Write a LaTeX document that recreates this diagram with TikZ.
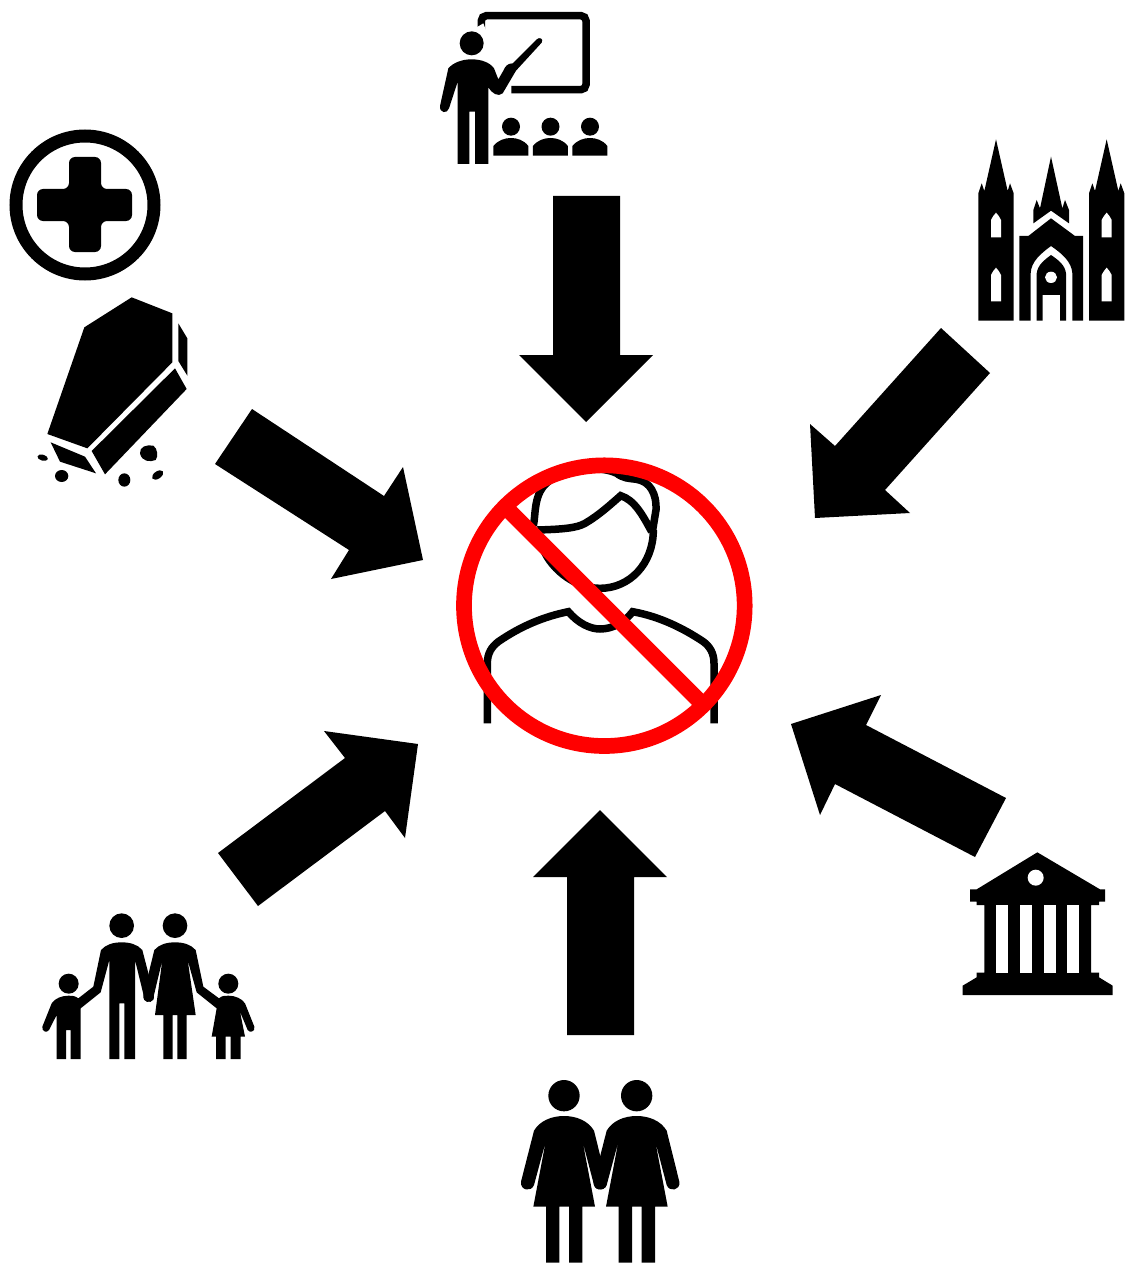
\documentclass[tikz,border=0pt]{standalone}
\tikzset{
  sil/.style={fill=black,draw=none},
  hole/.style={fill=white,draw=none},
  bigarrow/.style={fill=black,draw=none},
  personline/.style={draw=black,line width=7.5pt,fill=none},
  nored/.style={draw=red,fill=none},
  zoomed/.style={shift={#1},scale=0.33333}
}
\newcommand{\churchwindows}{
  \fill[hole] (78,322) -- (108,322) -- (108,270) .. controls (103,260) and (98,253) .. (93,248) .. controls (88,253) and (83,260) .. (78,270) -- cycle;
  \fill[hole] (78,514) -- (108,514) -- (108,435) .. controls (103,425) and (98,418) .. (93,413) .. controls (88,418) and (83,425) .. (78,435) -- cycle;
}
\newcommand{\churchtower}{
  \fill[sil] (40,572) -- (146,572) -- (146,190) -- (135,160) -- (128,183) -- (93,28) -- (58,183) -- (50,160) -- (40,190) -- cycle;
  \churchwindows
}
\newcommand{\womanfig}{
  \fill[sil] (162,77) circle (47);
  \fill[sil] (162,138) .. controls (125,138) and (90,152) .. (72,182)
    -- (33,335) .. controls (30,362) and (64,367) .. (72,345)
    -- (107,215) -- (70,410) -- (108,410) -- (108,578) -- (148,578) -- (148,410)
    -- (177,410) -- (177,578) -- (217,578) -- (217,410) -- (255,410) -- (218,215)
    -- (252,345) .. controls (260,367) and (294,362) .. (290,335)
    -- (252,182) .. controls (234,152) and (199,138) .. (162,138) -- cycle;
}
\newcommand{\pupil}{
  \fill[sil] (243,380) circle (27);
  \fill[sil] (190,467) -- (190,438) .. controls (205,420) and (225,414) .. (243,414)
    .. controls (261,414) and (281,420) .. (295,438) -- (295,467) -- cycle;
}
\begin{document}
\begin{tikzpicture}[x=1pt,y=-1pt]
\useasboundingbox[fill=white] (0,0) rectangle (1140,1276);

% arrows
\fill[bigarrow] (553,196) -- (620,196) -- (620,355) -- (653,355) -- (586,422) -- (519,355) -- (553,355) -- cycle;
\fill[bigarrow] (567,1035) -- (634,1035) -- (634,877) -- (667,877) -- (600,810) -- (533,877) -- (567,877) -- cycle;
\fill[bigarrow] (252,409) -- (384,496) -- (403,467) -- (423,560) -- (331,579) -- (349,550) -- (215,464) -- cycle;
\fill[bigarrow] (218,853) -- (345,758) -- (324,731) -- (418,744) -- (405,838) -- (385,811) -- (258,906) -- cycle;
\fill[bigarrow] (941,328) -- (990,373) -- (885,490) -- (910,513) -- (815,518) -- (810,424) -- (835,446) -- cycle;
\fill[bigarrow] (1006,798) -- (866,725) -- (881,695) -- (791,724) -- (820,815) -- (835,784) -- (975,857) -- cycle;

% medical cross
\draw[line width=13pt] (85,205) circle (69);
\fill[sil,rounded corners=6pt] (69,157) -- (101,157) -- (101,189) -- (132,189) -- (132,221) -- (101,221) -- (101,252) -- (69,252) -- (69,221) -- (37,221) -- (37,189) -- (69,189) -- cycle;

% teacher
\begin{scope}[zoomed={(430,0)}]
  \draw[line width=7.5pt,rounded corners=5pt] (154,90) -- (154,47) -- (468,47) -- (468,269) -- (244,269);
  \fill[hole] (160,70) -- (135,85) -- (135,110) -- (175,110) -- cycle;
  \fill[sil] (125,130) circle (36);
  \fill[sil] (125,178) .. controls (95,178) and (70,188) .. (55,205)
    -- (30,318) .. controls (28,340) and (52,342) .. (57,325)
    -- (83,245) -- (83,492) -- (118,492) -- (118,335) -- (135,335) -- (135,492) -- (175,492)
    -- (175,262) .. controls (185,280) and (205,292) .. (218,280)
    -- (258,212) -- (335,128) .. controls (342,116) and (328,110) .. (320,118)
    -- (248,190) .. controls (232,190) and (225,200) .. (220,212) -- (205,238) -- (192,205)
    .. controls (180,188) and (155,178) .. (125,178) -- cycle;
  \pupil
  \begin{scope}[xshift=118.5]\pupil\end{scope}
  \begin{scope}[xshift=237]\pupil\end{scope}
\end{scope}

% cathedral
\begin{scope}[zoomed={(965,130)}]
  \churchtower
  \begin{scope}[xshift=332]\churchtower\end{scope}
  \fill[sil] (205,280) -- (258,242) -- (312,280) -- (312,240) -- (300,210) -- (292,235) -- (258,80) -- (225,235) -- (215,210) -- (205,240) -- cycle;
  \fill[sil] (163,572) -- (163,318) -- (190,318) -- (258,265) -- (330,318) -- (354,318) -- (354,572) -- (322,572) -- (322,430)
    .. controls (320,395) and (290,370) .. (258,348) .. controls (228,370) and (198,395) .. (197,430) -- (197,572) -- cycle;
  \fill[sil] (215,572) -- (233,572) -- (233,495) -- (285,495) -- (285,572) -- (303,572) -- (303,430)
    .. controls (300,405) and (280,390) .. (258,375) .. controls (238,390) and (218,405) .. (215,430) -- cycle;
  \fill[hole] (258,442) ellipse (18 and 17);
\end{scope}

% coffin
\begin{scope}[zoomed={(25,285)}]
  \fill[sil] (320,37) -- (442,85) -- (442,232) -- (187,490) -- (67,447) -- (178,127) -- cycle;
  \fill[sil] (460,115) -- (487,160) -- (487,272) -- (460,228) -- cycle;
  \fill[sil] (450,250) -- (485,312) -- (240,568) -- (200,498) -- cycle;
  \fill[sil] (77,472) -- (180,515) -- (213,565) -- (105,530) -- cycle;
  \fill[sil,rotate around={-15:(53,518)}] (53,518) ellipse (16 and 9);
  \fill[sil] (110,573) ellipse (20 and 18);
  \fill[sil] (345,505) .. controls (343,485) and (365,478) .. (385,482) .. controls (398,490) and (400,515) .. (392,525) .. controls (375,532) and (350,530) .. (345,505) -- cycle;
  \fill[sil] (298,585) ellipse (18 and 20);
  \fill[sil,rotate around={35:(398,570)}] (398,570) ellipse (19 and 11);
\end{scope}

% family
\begin{scope}[zoomed={(30,905)}]
  \fill[sil] (275,62) circle (37);
  \fill[sil] (435,62) circle (37);
  \fill[sil] (116,236) circle (30);
  \fill[sil] (595,236) circle (30);
  % father and left child
  \fill[sil] (275,112) .. controls (250,112) and (228,118) .. (213,135) -- (190,245) -- (145,280)
    .. controls (135,272) and (125,272) .. (116,272) .. controls (95,272) and (75,280) .. (65,295)
    -- (37,365) .. controls (35,380) and (50,385) .. (57,375) -- (80,330) -- (80,462) -- (108,462) -- (108,375) -- (122,375) -- (122,462) -- (152,462) -- (152,310)
    -- (212,262) -- (238,165) -- (238,462) -- (268,462) -- (268,295) -- (283,295) -- (283,462) -- (315,462) -- (315,165)
    -- (342,275) .. controls (350,298) and (375,295) .. (372,270)
    -- (337,135) .. controls (322,118) and (300,112) .. (275,112) -- cycle;
  % mother and right child
  \fill[sil] (435,112) .. controls (410,112) and (388,118) .. (373,135)
    -- (340,270) .. controls (338,295) and (362,298) .. (370,278)
    -- (397,165) -- (375,330) -- (400,330) -- (400,462) -- (428,462) -- (428,330) -- (442,330) -- (442,462) -- (470,462) -- (470,330) -- (497,330) -- (473,165)
    -- (500,262) -- (560,310) -- (545,395) -- (558,395) -- (558,462) -- (587,462) -- (587,395) -- (602,395) -- (602,462) -- (632,462) -- (632,395) -- (645,395) -- (630,320)
    -- (653,375) .. controls (660,385) and (676,380) .. (673,365)
    -- (645,295) .. controls (635,280) and (615,272) .. (595,272) .. controls (585,272) and (575,272) .. (567,280)
    -- (520,245) -- (497,135) .. controls (482,118) and (460,112) .. (435,112) -- cycle;
\end{scope}

% bank
\begin{scope}[zoomed={(950,840)}]
  \fill[sil] (262,37) -- (450,148) -- (465,148) -- (465,185) -- (447,185) -- (447,195) -- (423,195) -- (423,398) -- (447,398) -- (447,412) -- (488,437) -- (488,465) -- (38,465) -- (38,437) -- (80,412) -- (80,398) -- (103,398) -- (103,195) -- (80,195) -- (80,185) -- (60,185) -- (60,148) -- (80,148) -- cycle;
  \fill[hole] (138,195) rectangle (173,398);
  \fill[hole] (209,195) rectangle (245,398);
  \fill[hole] (281,195) rectangle (317,398);
  \fill[hole] (352,195) rectangle (388,398);
  \fill[hole] (257,113) circle (24);
\end{scope}

% two women
\begin{scope}[zoomed={(510,1070)}]
  \womanfig
  \begin{scope}[xshift=218]\womanfig\end{scope}
\end{scope}

% person with prohibition sign
\begin{scope}[zoomed={(450,450)}]
  \draw[personline] (250,228) .. controls (258,190) and (250,130) .. (295,95)
    .. controls (340,55) and (450,45) .. (500,70) .. controls (520,85) and (535,85) .. (560,88)
    .. controls (600,95) and (620,130) .. (618,180) -- (608,240);
  \draw[personline] (262,240) .. controls (330,238) and (380,235) .. (405,220)
    .. controls (445,197) and (480,165) .. (512,137) .. controls (555,150) and (580,200) .. (605,245);
  \draw[personline] (610,240) .. controls (610,340) and (540,415) .. (450,415)
    .. controls (370,415) and (295,350) .. (275,285);
  \draw[personline] (112,820) -- (112,640) .. controls (112,610) and (125,590) .. (145,575)
    .. controls (210,530) and (280,500) .. (355,485)
    .. controls (385,520) and (420,537) .. (450,537) .. controls (490,537) and (525,515) .. (548,485)
    .. controls (630,500) and (700,535) .. (760,575)
    .. controls (780,590) and (792,610) .. (792,640) -- (792,820);
  \draw[nored,line width=15.7pt] (463,467) circle (421);
  \draw[nored,line width=16pt] (180,185) -- (745,750);
\end{scope}
\end{tikzpicture}
\end{document}
